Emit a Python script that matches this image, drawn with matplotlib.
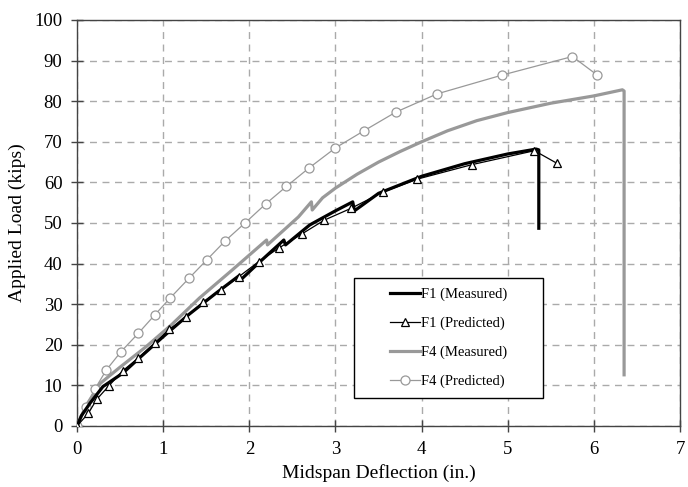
import matplotlib.pyplot as plt
from matplotlib.patches import Rectangle

plt.rcParams['font.family'] = ['Liberation Serif', 'DejaVu Serif']

# F1 measured (black, thick)
f1_meas_x = [0, 0.05, 0.15, 0.3, 0.53, 0.7, 1.0, 1.3, 1.6, 1.88, 1.9, 2.1, 2.4, 2.42,
             2.7, 3.0, 3.2, 3.22, 3.5, 4.0, 4.5, 5.0, 5.33, 5.36, 5.36]
f1_meas_y = [0, 2.5, 5.6, 9.7, 13.0, 16.3, 22.0, 27.5, 32.5, 37.0, 36.0, 40.0, 45.8, 44.6,
             49.5, 53.0, 55.2, 53.0, 57.3, 61.5, 64.6, 67.0, 68.2, 68.0, 48.7]

# F1 predicted (triangles)
f1_pred_x = [0, 0.13, 0.23, 0.37, 0.53, 0.71, 0.9, 1.07, 1.27, 1.46, 1.67, 1.88, 2.11,
             2.34, 2.61, 2.87, 3.18, 3.55, 3.95, 4.59, 5.31, 5.57]
f1_pred_y = [0, 3.1, 6.6, 9.9, 13.6, 16.7, 20.4, 23.8, 26.8, 30.5, 33.5, 36.8, 40.5,
             43.8, 47.3, 50.7, 53.6, 57.6, 60.8, 64.4, 67.8, 64.7]

# F4 measured (gray, thick)
f4_meas_x = [0, 0.05, 0.12, 0.27, 0.5, 0.8, 1.1, 1.42, 1.8, 2.2, 2.21, 2.57, 2.72, 2.73,
             2.85, 3.0, 3.25, 3.5, 3.75, 4.0, 4.3, 4.64, 5.0, 5.5, 6.0, 6.33, 6.35, 6.35]
f4_meas_y = [0, 2.5, 5.5, 10.5, 14.5, 19.5, 25.0, 31.5, 38.4, 45.8, 44.6, 51.5, 55.2, 53.2,
             56.2, 58.6, 62.0, 65.0, 67.6, 70.0, 72.7, 75.2, 77.2, 79.5, 81.3, 82.8, 82.5, 12.6]

# F4 predicted (circles)
f4_pred_x = [0, 0.1, 0.21, 0.34, 0.51, 0.71, 0.9, 1.08, 1.3, 1.51, 1.72, 1.95, 2.19,
             2.43, 2.69, 3.0, 3.33, 3.7, 4.18, 4.93, 5.75, 6.04]
f4_pred_y = [0, 4.6, 9.2, 13.8, 18.3, 22.8, 27.3, 31.5, 36.4, 41.0, 45.6, 50.0, 54.7,
             59.0, 63.5, 68.5, 72.7, 77.3, 81.8, 86.4, 91.0, 86.4]

fig = plt.figure(figsize=(6.88, 4.87), dpi=100)
ax = fig.add_axes([0.112, 0.1253, 0.8765, 0.8337])

ax.plot(f1_meas_x, f1_meas_y, color='black', lw=2.3, label='F1 (Measured)', zorder=4)
ax.plot(f1_pred_x, f1_pred_y, color='black', lw=0.9, marker='^', ms=6,
        mfc='white', mec='black', mew=0.9, label='F1 (Predicted)', zorder=5)
ax.plot(f4_meas_x, f4_meas_y, color='#999999', lw=2.3, label='F4 (Measured)', zorder=3)
ax.plot(f4_pred_x, f4_pred_y, color='#999999', lw=0.9, marker='o', ms=6.5,
        mfc='white', mec='#999999', mew=0.9, label='F4 (Predicted)', zorder=3)

ax.set_xlim(0, 7)
ax.set_ylim(0, 100)
ax.set_xticks(range(0, 8))
ax.set_yticks(range(0, 101, 10))
ax.grid(True, color='#aaaaaa', linestyle=(0, (5, 4)), lw=1.0)
ax.set_axisbelow(True)
for s in ax.spines.values():
    s.set_color('#444444')
    s.set_linewidth(1.0)
ax.tick_params(direction='inout', length=9, width=1.0, color='#444444',
               labelsize=13.5, pad=6)
ax.set_xlabel('Midspan Deflection (in.)', fontsize=14, labelpad=5)
ax.set_ylabel('Applied Load (kips)', fontsize=14, labelpad=6)

# legend box drawn as a patch, legend itself frameless and centred in it
box = Rectangle((0.46, 0.069), 0.312, 0.296, transform=ax.transAxes,
                facecolor='white', edgecolor='black', lw=1.0, zorder=9)
ax.add_patch(box)
leg = ax.legend(loc='center', bbox_to_anchor=(0.616, 0.217), frameon=False,
                fontsize=10.5, labelspacing=1.05, handlelength=2.05,
                handletextpad=0.1, borderaxespad=0, borderpad=0)
leg.set_zorder(10)

fig.savefig('out.png', dpi=100)
